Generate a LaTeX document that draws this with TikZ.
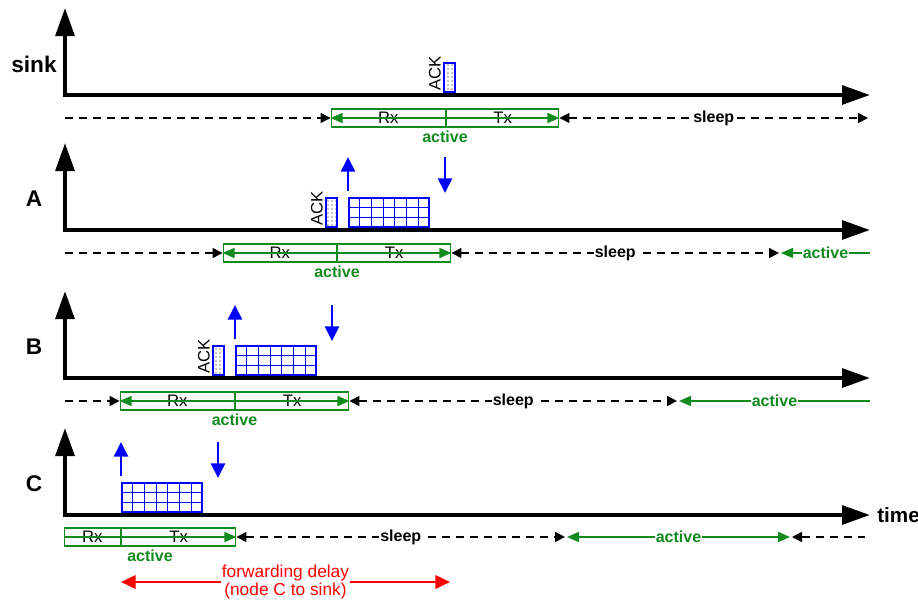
\documentclass[tikz,border=0pt]{standalone}
\usepackage{fontspec}
\setmainfont{Liberation Sans}
\usetikzlibrary{arrows.meta,positioning,patterns,calc}
\definecolor{actgreen}{HTML}{118A1E}
\definecolor{pktblue}{HTML}{0000FF}
\definecolor{delayred}{HTML}{FF0000}
\tikzset{
  gtip/.tip={Triangle[length=9pt,width=7.5pt]},
  btip/.tip={Triangle[length=7.5pt,width=7.5pt]},
  timeaxis/.style={line width=3pt,line join=miter,{Triangle[length=21pt,width=14pt]}-{Triangle[length=21pt,width=14pt]}},
  rowlabel/.style={font=\fontsize{17}{20}\selectfont\bfseries},
  slot/.style={draw=actgreen,line width=1.1pt,minimum height=13.5pt,inner sep=0pt,font=\fontsize{12.5}{14}\selectfont},
  actline/.style={actgreen,line width=1.1pt},
  sleepline/.style={line width=1.1pt,dash pattern=on 6pt off 4.5pt},
  phase/.style={fill=white,inner sep=0.8pt,font=\fontsize{12}{14}\selectfont\bfseries},
  ackbox/.style={draw=pktblue,line width=1.5pt,pattern=dots,minimum width=8.25pt,minimum height=22pt,inner sep=0pt,anchor=south west},
  acklabel/.style={rotate=90,anchor=south west,inner sep=1.5pt,font=\fontsize{12.5}{14}\selectfont},
  pkt/.style={draw=pktblue,line width=1.5pt,minimum width=60pt,minimum height=22pt,inner sep=0pt,anchor=south west},
  cell/.style={pktblue,line width=0.8pt},
  flow/.style={pktblue,line width=2pt,-{Triangle[length=11pt,width=10.5pt]}},
  delayarrow/.style={delayred,line width=2pt,{Triangle[length=11pt,width=10pt]}-{Triangle[length=11pt,width=10pt]}},
}
\begin{document}
\begin{tikzpicture}[x=0.75pt,y=-0.75pt]
  \useasboundingbox (0,0) rectangle (918,601);

  % time axes of the nodes
  \foreach \n/\y in {sink/95,A/230,B/378,C/515}{
    \coordinate (o\n) at (65,\y);
    \draw[timeaxis] (65,\y-87) -- (o\n) -- (870,\y);
    \node[rowlabel] (l\n) at (34,\y-31) {\n};
  }
  \node[rowlabel,anchor=west,inner sep=0pt,font=\fontsize{15.5}{18}\selectfont\bfseries] (ltime) at (877,515) {time};

  % duty cycle: Rx and Tx slots
  \foreach \n/\y/\a/\m/\b in {sink/118/332/446/558,A/253/224/337/450,B/401/121/235/348,C/537/65/121/235}{
    \node[slot,anchor=east,minimum width={(\m-\a)*0.75pt}] (rx\n) at (\m,\y) {Rx};
    \node[slot,anchor=west,minimum width={(\b-\m)*0.75pt}] (tx\n) at (\m,\y) {Tx};
    \node[phase,fill=none,text=actgreen] (act\n) at ($(rx\n.west)!.5!(tx\n.east)+(0,18.5)$) {active};
  }
  \draw[actline,gtip-gtip] (rxsink.west) -- (txsink.east);
  \draw[actline,gtip-gtip] (rxA.west) -- (txA.east);
  \draw[actline,gtip-gtip] (rxB.west) -- (txB.east);
  \draw[actline,-gtip] (rxC.west) -- (txC.east);

  % sleep and next active periods
  \coordinate (s0sink) at (65,118);
  \coordinate (s1sink) at (868,118);
  \draw[sleepline,-btip] (s0sink) -- (rxsink.west);
  \draw[sleepline,btip-btip] (txsink.east) -- node[phase] (slsink) {sleep} (s1sink);

  \coordinate (s0A) at (65,253);
  \coordinate (s1A) at (779,253);
  \coordinate (a0A) at (781,253);
  \coordinate (a1A) at (870,253);
  \draw[sleepline,-btip] (s0A) -- (rxA.west);
  \draw[sleepline,btip-btip] (txA.east) -- node[phase] (slA) {sleep} (s1A);
  \draw[actline,gtip-] (a0A) -- node[phase,text=actgreen] (nxA) {active} (a1A);

  \coordinate (s0B) at (65,401);
  \coordinate (s1B) at (677,401);
  \coordinate (a0B) at (679,401);
  \coordinate (a1B) at (870,401);
  \draw[sleepline,-btip] (s0B) -- (rxB.west);
  \draw[sleepline,btip-btip] (txB.east) -- node[phase] (slB) {sleep} (s1B);
  \draw[actline,gtip-] (a0B) -- node[phase,text=actgreen] (nxB) {active} (a1B);

  \coordinate (s1C) at (565,537);
  \coordinate (a0C) at (567,537);
  \coordinate (a1C) at (790,537);
  \coordinate (s2C) at (792,537);
  \coordinate (s3C) at (865,537);
  \draw[sleepline,btip-btip] (txC.east) -- node[phase] (slC) {sleep} (s1C);
  \draw[actline,gtip-gtip] (a0C) -- node[phase,text=actgreen] (nxC) {active} (a1C);
  \draw[sleepline,btip-] (s2C) -- (s3C);

  % data packets
  \foreach \n/\y/\px in {A/230/348,B/378/235,C/515/121}{
    \node[pkt] (p\n) at (\px,\y-2) {};
    \foreach \k in {1,...,6}
      \draw[cell] ($(p\n.south west)!\k/7!(p\n.south east)$) -- ($(p\n.north west)!\k/7!(p\n.north east)$);
    \foreach \k in {1,2}
      \draw[cell] ($(p\n.south west)!\k/3!(p\n.north west)$) -- ($(p\n.south east)!\k/3!(p\n.north east)$);
    \coordinate (up\n) at (\px,\y-39);
    \coordinate (dn\n) at (\px+97,\y-73);
    \draw[flow] (up\n) -- ++(0,-34);
    \draw[flow] (dn\n) -- ++(0,36);
  }

  % acknowledgements
  \foreach \n/\y/\x in {sink/95/443,A/230/325,B/378/212}{
    \node[ackbox] (ack\n) at (\x,\y-2) {};
    \node[acklabel] (tack\n) at (ack\n.south west) {ACK};
  }

  % end-to-end delay
  \coordinate (d0) at (121,582);
  \coordinate (d1) at (450,582);
  \draw[delayarrow] (d0) -- node[fill=white,text=delayred,align=center,inner sep=1pt,
    font=\fontsize{13}{14}\selectfont] (dly) {forwarding delay\\(node C to sink)} (d1);
\end{tikzpicture}
\end{document}
